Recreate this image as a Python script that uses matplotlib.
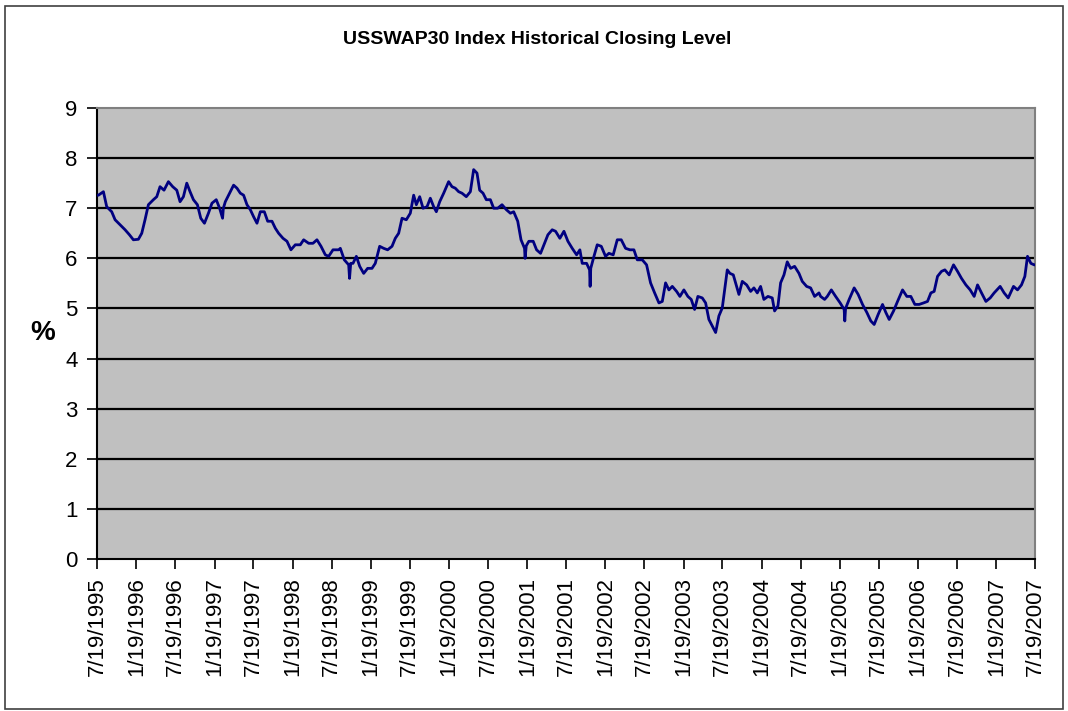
import matplotlib
matplotlib.use("Agg")
import matplotlib.pyplot as plt
from matplotlib.patches import Rectangle
import pandas as pd

# closing level, dates as decimal years
DATE_YEARS = [
    1995.546, 1995.563, 1995.627, 1995.669, 1995.733, 1995.776, 1995.840, 1995.904, 1995.960,
    1996.011, 1996.075, 1996.118, 1996.160, 1996.203, 1996.267, 1996.310, 1996.352, 1996.403,
    1996.459, 1996.514, 1996.566, 1996.608, 1996.651, 1996.694, 1996.736, 1996.779, 1996.830,
    1996.873, 1996.920, 1996.971, 1997.014, 1997.069, 1997.112, 1997.150, 1997.160, 1997.185,
    1997.240, 1997.291, 1997.334, 1997.377, 1997.419, 1997.462, 1997.505, 1997.547, 1997.590,
    1997.633, 1997.684, 1997.727, 1997.782, 1997.825, 1997.867, 1997.923, 1997.974, 1998.025,
    1998.081, 1998.145, 1998.188, 1998.252, 1998.307, 1998.358, 1998.410, 1998.465, 1998.508,
    1998.563, 1998.636, 1998.657, 1998.708, 1998.764, 1998.775, 1998.790, 1998.819, 1998.862,
    1998.905, 1998.956, 1999.007, 1999.063, 1999.105, 1999.161, 1999.212, 1999.263, 1999.319,
    1999.361, 1999.404, 1999.447, 1999.502, 1999.553, 1999.596, 1999.630, 1999.673, 1999.716,
    1999.767, 1999.809, 1999.852, 1999.886, 1999.929, 1999.980, 2000.044, 2000.087, 2000.129,
    2000.172, 2000.215, 2000.270, 2000.322, 2000.364, 2000.407, 2000.441, 2000.484, 2000.526,
    2000.578, 2000.620, 2000.672, 2000.727, 2000.783, 2000.834, 2000.876, 2000.928, 2000.970,
    2001.013, 2001.020, 2001.035, 2001.068, 2001.124, 2001.167, 2001.218, 2001.261, 2001.312,
    2001.367, 2001.410, 2001.465, 2001.517, 2001.568, 2001.623, 2001.679, 2001.721, 2001.751,
    2001.807, 2001.845, 2001.852, 2001.860, 2001.901, 2001.943, 2001.995, 2002.050, 2002.093,
    2002.148, 2002.200, 2002.251, 2002.306, 2002.362, 2002.413, 2002.456, 2002.520, 2002.575,
    2002.626, 2002.678, 2002.733, 2002.776, 2002.818, 2002.861, 2002.904, 2002.959, 2003.002,
    2003.053, 2003.104, 2003.147, 2003.190, 2003.232, 2003.288, 2003.331, 2003.373, 2003.416,
    2003.459, 2003.501, 2003.544, 2003.574, 2003.608, 2003.642, 2003.685, 2003.715, 2003.757,
    2003.800, 2003.856, 2003.907, 2003.949, 2003.992, 2004.035, 2004.077, 2004.129, 2004.184,
    2004.214, 2004.257, 2004.291, 2004.334, 2004.376, 2004.419, 2004.470, 2004.526, 2004.568,
    2004.624, 2004.675, 2004.726, 2004.782, 2004.803, 2004.854, 2004.888, 2004.940, 2004.995,
    2005.051, 2005.102, 2005.110, 2005.120, 2005.166, 2005.230, 2005.281, 2005.337, 2005.392,
    2005.443, 2005.486, 2005.537, 2005.593, 2005.635, 2005.678, 2005.734, 2005.785, 2005.849,
    2005.904, 2005.955, 2006.007, 2006.062, 2006.118, 2006.169, 2006.212, 2006.254, 2006.297,
    2006.348, 2006.391, 2006.446, 2006.502, 2006.553, 2006.604, 2006.660, 2006.715, 2006.766,
    2006.809, 2006.860, 2006.916, 2006.971, 2007.022, 2007.099, 2007.150, 2007.202, 2007.270,
    2007.321, 2007.372, 2007.415, 2007.449, 2007.492, 2007.535, 2007.546,
]
LEVELS = [
    7.26, 7.26, 7.33, 7.03, 6.93, 6.77, 6.67, 6.57, 6.47,
    6.37, 6.38, 6.50, 6.77, 7.07, 7.17, 7.23, 7.43, 7.36,
    7.53, 7.43, 7.36, 7.13, 7.23, 7.50, 7.33, 7.17, 7.07,
    6.80, 6.70, 6.90, 7.10, 7.17, 7.00, 6.80, 7.00, 7.13,
    7.30, 7.46, 7.40, 7.30, 7.26, 7.07, 6.97, 6.83, 6.70,
    6.93, 6.93, 6.74, 6.74, 6.60, 6.50, 6.40, 6.34, 6.17,
    6.27, 6.27, 6.37, 6.30, 6.30, 6.37, 6.24, 6.07, 6.04,
    6.17, 6.17, 6.20, 5.97, 5.87, 5.60, 5.90, 5.90, 6.04,
    5.84, 5.70, 5.80, 5.80, 5.90, 6.24, 6.20, 6.17, 6.24,
    6.40, 6.50, 6.80, 6.77, 6.90, 7.26, 7.07, 7.23, 7.00,
    7.03, 7.20, 7.03, 6.93, 7.13, 7.30, 7.53, 7.43, 7.40,
    7.33, 7.30, 7.23, 7.33, 7.77, 7.70, 7.36, 7.30, 7.17,
    7.17, 7.00, 7.00, 7.07, 6.97, 6.90, 6.93, 6.74, 6.37,
    6.20, 6.00, 6.25, 6.34, 6.34, 6.17, 6.10, 6.27, 6.47,
    6.57, 6.54, 6.40, 6.54, 6.34, 6.20, 6.07, 6.17, 5.90,
    5.90, 5.77, 5.44, 5.80, 6.04, 6.27, 6.24, 6.04, 6.10,
    6.07, 6.37, 6.37, 6.20, 6.17, 6.17, 5.97, 5.97, 5.87,
    5.51, 5.31, 5.11, 5.14, 5.51, 5.37, 5.44, 5.34, 5.24,
    5.37, 5.24, 5.18, 4.98, 5.24, 5.21, 5.11, 4.78, 4.65,
    4.52, 4.85, 5.01, 5.37, 5.77, 5.70, 5.67, 5.51, 5.28,
    5.54, 5.47, 5.34, 5.41, 5.31, 5.44, 5.18, 5.24, 5.21,
    4.95, 5.05, 5.51, 5.67, 5.93, 5.80, 5.84, 5.70, 5.54,
    5.44, 5.41, 5.24, 5.31, 5.24, 5.18, 5.24, 5.37, 5.24,
    5.11, 4.98, 4.75, 5.00, 5.18, 5.41, 5.28, 5.08, 4.92,
    4.75, 4.68, 4.88, 5.08, 4.92, 4.78, 4.95, 5.14, 5.37,
    5.24, 5.24, 5.08, 5.08, 5.11, 5.14, 5.31, 5.34, 5.64,
    5.74, 5.77, 5.67, 5.87, 5.74, 5.60, 5.47, 5.37, 5.24,
    5.47, 5.31, 5.14, 5.21, 5.31, 5.44, 5.31, 5.21, 5.44,
    5.37, 5.47, 5.64, 6.04, 5.90, 5.87, 5.87,
]

TICK_LABELS = [
    "7/19/1995", "1/19/1996", "7/19/1996", "1/19/1997", "7/19/1997", "1/19/1998",
    "7/19/1998", "1/19/1999", "7/19/1999", "1/19/2000", "7/19/2000", "1/19/2001",
    "7/19/2001", "1/19/2002", "7/19/2002", "1/19/2003", "7/19/2003", "1/19/2004",
    "7/19/2004", "1/19/2005", "7/19/2005", "1/19/2006", "7/19/2006", "1/19/2007",
    "7/19/2007",
]
Y_TICKS = list(range(0, 10))


def year_to_date(y):
    yr = int(y)
    return pd.Timestamp(yr, 1, 1) + pd.Timedelta(days=(y - yr) * 365.25)


dates = [year_to_date(y) for y in DATE_YEARS]
tick_dates = pd.to_datetime(TICK_LABELS, format="%m/%d/%Y")

plt.rcParams["font.family"] = ["Liberation Sans", "DejaVu Sans"]

fig = plt.figure(figsize=(10.68, 7.11), dpi=100)
ax = fig.add_axes([97 / 1068, 1 - 559 / 711, (1035 - 97) / 1068, (559 - 108) / 711])
ax.set_facecolor("#c0c0c0")

ax.plot(dates, LEVELS, color="#000080", linewidth=2.0, zorder=3)

ax.set_xlim(tick_dates[0], tick_dates[-1])
ax.set_ylim(0, 9)
ax.set_yticks(Y_TICKS)
ax.set_xticks(tick_dates)
ax.set_xticklabels(TICK_LABELS, rotation=90, fontsize=16)
ax.tick_params(axis="y", labelsize=16, length=7, width=1.2, pad=7, direction="out")
ax.tick_params(axis="x", length=7, width=1.2, pad=6, direction="out")

for v in Y_TICKS[1:-1]:
    ax.axhline(v, color="black", linewidth=1.6, zorder=2)

for side in ["left", "bottom"]:
    ax.spines[side].set_color("black")
    ax.spines[side].set_linewidth(1.5)
for side in ["top", "right"]:
    ax.spines[side].set_color("#808080")
    ax.spines[side].set_linewidth(1.5)

fig.text(537 / 1068, 1 - 40 / 711, "USSWAP30 Index Historical Closing Level",
         ha="center", va="center", fontsize=14, fontweight="bold")
fig.text(43 / 1068, 1 - 333 / 711, "%", ha="center", va="center",
         fontsize=20, fontweight="bold")

fig.patches.append(Rectangle((5 / 1068, 1 - 709 / 711), (1063 - 5) / 1068, (709 - 6) / 711,
                             transform=fig.transFigure, fill=False,
                             edgecolor="#404040", linewidth=1.2))

fig.savefig("out.png", dpi=100)
